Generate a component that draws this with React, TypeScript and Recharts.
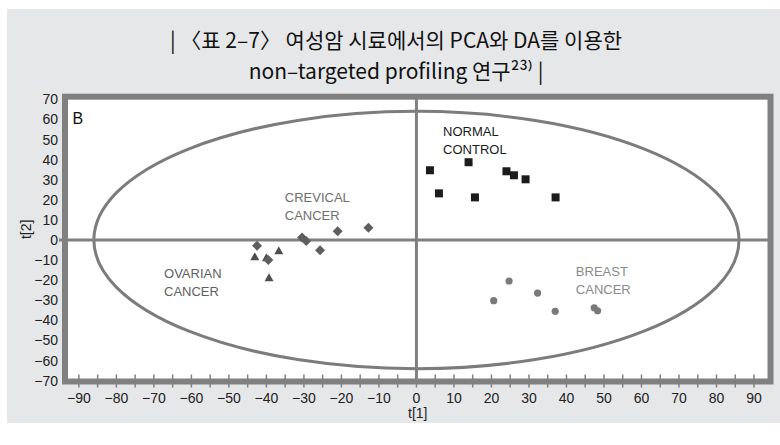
import React from 'react';
import {
  ScatterChart, Scatter, XAxis, YAxis, CartesianGrid, ReferenceArea, ReferenceLine, ReferenceDot
} from 'recharts';

// axis ticks (tick marks every 5, labels every 10 on t[1])
const xTicks = [-90, -85, -80, -75, -70, -65, -60, -55, -50, -45, -40, -35, -30, -25, -20, -15, -10, -5, 0,
  5, 10, 15, 20, 25, 30, 35, 40, 45, 50, 55, 60, 65, 70, 75, 80, 85, 90];
const yTicks = [-70, -60, -50, -40, -30, -20, -10, 0, 10, 20, 30, 40, 50, 60, 70];
const xDomain = [-93.7, 94.4];
const yDomain = [-70.4, 71.3];

// score points
const normalControl = [
  { x: 3.6, y: 34.7 }, { x: 13.9, y: 38.7 }, { x: 6.0, y: 23.2 }, { x: 15.6, y: 21.2 },
  { x: 24.0, y: 34.2 }, { x: 26.0, y: 32.2 }, { x: 29.1, y: 30.2 }, { x: 37.1, y: 21.2 },
];
const breastCancer = [
  { x: 24.7, y: -20.4 }, { x: 20.6, y: -30.2 }, { x: 32.3, y: -26.4 }, { x: 37.0, y: -35.5 },
  { x: 47.4, y: -33.7 }, { x: 48.3, y: -35.2 },
];
const crevicalCancer = [
  { x: -30.5, y: 1.3 }, { x: -29.4, y: -0.5 }, { x: -25.7, y: -5.1 }, { x: -21.0, y: 4.3 },
  { x: -12.8, y: 6.1 }, { x: -42.5, y: -2.8 }, { x: -39.5, y: -10.0 },
];
const ovarianCancer = [
  { x: -43.1, y: -8.3 }, { x: -36.7, y: -5.3 }, { x: -40.0, y: -8.8 }, { x: -39.3, y: -18.8 },
];

// confidence ellipse (centre 0,0)
const ellipseA = 86;
const ellipseB = 64;

const groupLabels = [
  { x: 7.1, y: 54.4, lines: ['NORMAL', 'CONTROL'], color: '#1a1a1a' },
  { x: -35.1, y: 21.5, lines: ['CREVICAL', 'CANCER'], color: '#6e6e6e' },
  { x: -67.3, y: -16.6, lines: ['OVARIAN', 'CANCER'], color: '#5e5e5e' },
  { x: 42.5, y: -15.3, lines: ['BREAST', 'CANCER'], color: '#8a8a8a' },
];

const titleLine1 = '| 〈표 2–7〉 여성암 시료에서의 PCA와 DA를 이용한';
const titleLine2 = 'non–targeted profiling 연구²³⁾ |';

const FONT = '"Liberation Sans", Arial, sans-serif';
const GRAY = '#808080';

const fmt = (v: number) => (v < 0 ? `\u2212${Math.abs(v)}` : `${v}`);

const XTick = (props: any) => {
  const { x, y, payload } = props;
  return (
    <g>
      <line x1={x} x2={x} y1={y - 7} y2={y + 6} stroke={GRAY} strokeWidth={1.5} />
      {payload.value % 10 === 0 && (
        <text x={x} y={y + 21} textAnchor="middle" fontFamily={FONT} fontSize={14} fill="#222">
          {fmt(payload.value)}
        </text>
      )}
    </g>
  );
};

const YTick = (props: any) => {
  const { x, y, payload } = props;
  return (
    <g>
      {payload.value === 0 && <line x1={x - 6} x2={x} y1={y} y2={y} stroke={GRAY} strokeWidth={3} />}
      <text x={x - 7} y={y + 5} textAnchor="end" fontFamily={FONT} fontSize={14} fill="#222">
        {fmt(payload.value)}
      </text>
    </g>
  );
};

const Square = (p: any) => <rect x={p.cx - 4} y={p.cy - 4} width={8} height={8} fill="#1c1c1c" />;
const Diamond = (p: any) => (
  <polygon points={`${p.cx},${p.cy - 5} ${p.cx + 5},${p.cy} ${p.cx},${p.cy + 5} ${p.cx - 5},${p.cy}`} fill="#5e5e5e" />
);
const Triangle = (p: any) => (
  <polygon points={`${p.cx},${p.cy - 4.5} ${p.cx + 4.5},${p.cy + 3.5} ${p.cx - 4.5},${p.cy + 3.5}`} fill="#4e4e4e" />
);
const Dot = (p: any) => <circle cx={p.cx} cy={p.cy} r={3.6} fill="#7a7a7a" />;

const EllipseShape = (p: any) => (
  <ellipse cx={p.x + p.width / 2} cy={p.y + p.height / 2} rx={p.width / 2} ry={p.height / 2}
    fill="none" stroke="#7c7c7c" strokeWidth={3} />
);

const FrameShape = (p: any) => (
  <rect x={p.x} y={p.y} width={p.width} height={p.height} fill="none" stroke={GRAY} strokeWidth={6} />
);

const makeLabel = (lines: string[], color: string) => (p: any) => (
  <text x={p.cx} y={p.cy + 5} fontFamily={FONT} fontSize={13} fill={color}>
    {lines.map((l, i) => (
      <tspan key={i} x={p.cx} dy={i === 0 ? 0 : 18}>{l}</tspan>
    ))}
  </text>
);

const PanelLetter = (p: any) => (
  <text x={p.cx} y={p.cy + 6} textAnchor="middle" fontFamily={FONT} fontSize={16} fill="#111">B</text>
);

export default function App() {
  return (
    <div style={{ position: 'absolute', left: 0, top: 0, width: 780, height: 445, background: '#fff' }}>
      <div style={{ position: 'absolute', left: 7, top: 9, width: 773, height: 414, background: '#e6e7e9' }} />
      <div style={{
        position: 'absolute', left: 0, top: 24, width: 792, textAlign: 'center',
        fontFamily: '"Noto Sans CJK KR", sans-serif', fontSize: 21, fontWeight: 400, lineHeight: '31px',
        color: '#111', letterSpacing: 0,
      }}>
        {titleLine1}<br />{titleLine2}
      </div>
      <div style={{ position: 'absolute', left: 0, top: 0 }}>
        <ScatterChart width={780} height={445} margin={{ top: 96.7, right: 9.5, bottom: 33.5, left: 35 }}>
          <CartesianGrid fill="#fff" horizontal={false} vertical={false} />
          <XAxis type="number" dataKey="x" domain={xDomain} ticks={xTicks} interval={0} allowDataOverflow
            axisLine={false} tickLine={false} tickSize={0} tickMargin={0} height={30} tick={<XTick />}
            label={{ value: 't[1]', position: 'insideBottom', offset: 0, dy: 6, fontFamily: FONT, fontSize: 14, fill: '#222' }} />
          <YAxis type="number" dataKey="y" domain={yDomain} ticks={yTicks} interval={0} allowDataOverflow
            axisLine={false} tickLine={false} tickSize={0} tickMargin={0} width={30} tick={<YTick />}
            label={{ value: 't[2]', angle: -90, position: 'insideLeft', offset: 0, dx: -9, fontFamily: FONT, fontSize: 14, fill: '#222' }} />
          <ReferenceLine y={0} stroke={GRAY} strokeWidth={3} />
          <ReferenceLine x={0} stroke={GRAY} strokeWidth={3} />
          <ReferenceArea x1={-ellipseA} x2={ellipseA} y1={-ellipseB} y2={ellipseB} shape={EllipseShape} />
          <ReferenceArea x1={xDomain[0]} x2={xDomain[1]} y1={yDomain[0]} y2={yDomain[1]} shape={FrameShape} />
          <ReferenceDot x={-90.3} y={60.8} shape={PanelLetter} />
          {groupLabels.map((g) => (
            <ReferenceDot key={g.lines[0]} x={g.x} y={g.y} shape={makeLabel(g.lines, g.color)} />
          ))}
          <Scatter data={ovarianCancer} shape={Triangle} isAnimationActive={false} />
          <Scatter data={crevicalCancer} shape={Diamond} isAnimationActive={false} />
          <Scatter data={normalControl} shape={Square} isAnimationActive={false} />
          <Scatter data={breastCancer} shape={Dot} isAnimationActive={false} />
        </ScatterChart>
      </div>
    </div>
  );
}
